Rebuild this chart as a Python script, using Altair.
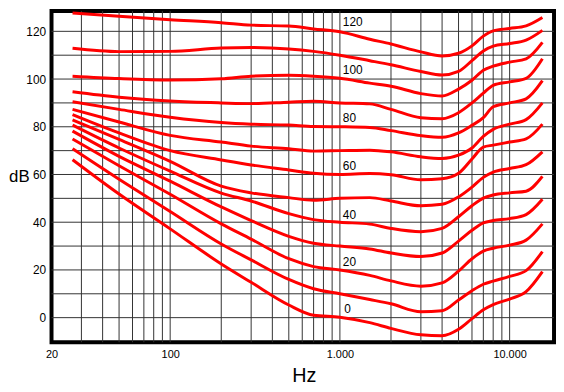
import altair as alt
import pandas as pd

# Frequencies (Hz) at which the curves were read
freq = [26.6, 50, 100, 200, 300, 500, 700, 1000, 1500, 2000, 3000, 4000,
        5000, 6000, 7000, 8000, 10000, 12500, 15600]

# Sound pressure level (dB) of each equal-loudness curve (phon)
phon_0 = [66.2, 51.8, 37.2, 22.5, 14.8, 5.3, 1.0, 0.2, -2.1, -4.5, -7.2, -7.6,
          -4.9, -0.4, 3.3, 5.5, 7.8, 10.9, 19.3]
phon_10 = [70.8, 58.0, 44.5, 30.9, 24.2, 16.0, 12.1, 10.0, 7.6, 5.8, 2.5, 2.9,
           7.4, 11.3, 14.0, 15.3, 17.3, 19.7, 27.7]
phon_20 = [74.9, 63.7, 51.7, 39.3, 32.9, 24.7, 21.4, 20.0, 17.7, 15.4, 13.2, 14.6,
           19.5, 24.7, 27.9, 29.1, 30.4, 32.5, 39.3]
phon_30 = [78.2, 67.6, 57.2, 46.4, 40.7, 34.1, 31.2, 30.0, 28.8, 27.1, 25.6, 27.1,
           32.1, 36.6, 39.7, 40.7, 41.5, 43.2, 49.6]
phon_40 = [80.7, 71.1, 61.4, 52.2, 48.9, 43.6, 41.1, 40.0, 39.2, 37.4, 36.0, 37.4,
           42.3, 46.9, 50.1, 51.4, 52.3, 53.0, 59.2]
phon_50 = [82.9, 74.7, 65.5, 55.1, 52.3, 50.3, 49.2, 50.0, 50.3, 48.9, 46.9, 47.5,
           50.6, 54.7, 58.8, 61.0, 62.5, 64.1, 69.5]
phon_60 = [85.1, 77.4, 70.0, 66.1, 64.0, 61.9, 60.5, 60.0, 60.4, 59.9, 57.8, 58.2,
           60.5, 66.5, 71.5, 72.3, 73.6, 74.9, 81.1]
phon_70 = [87.3, 82.0, 76.4, 73.6, 71.9, 70.8, 69.8, 70.0, 70.2, 69.5, 67.4, 66.7,
           68.1, 71.1, 76.0, 78.9, 81.1, 83.0, 90.0]
phon_80 = [90.5, 87.3, 84.0, 81.8, 81.1, 80.7, 80.1, 80.0, 79.7, 78.4, 76.3, 75.6,
           77.4, 80.6, 83.8, 88.4, 90.0, 91.7, 99.3]
phon_90 = [94.7, 92.4, 90.8, 90.0, 89.7, 90.3, 90.7, 90.0, 89.6, 87.3, 83.8, 83.4,
           85.9, 90.0, 94.1, 97.4, 98.8, 100.3, 108.5]
phon_100 = [101.2, 100.2, 99.6, 100.1, 101.2, 101.6, 101.2, 100.3, 98.3, 97.0, 93.9,
            92.9, 95.8, 99.5, 103.7, 105.4, 107.1, 108.5, 115.4]
phon_110 = [112.9, 111.5, 111.6, 113.0, 113.2, 112.6, 111.6, 110.0, 107.7, 106.0,
            103.2, 101.7, 103.2, 107.7, 111.8, 113.8, 114.9, 116.3, 120.4]
phon_120 = [127.7, 126.3, 124.9, 123.6, 122.6, 122.2, 121.0, 119.8, 116.7, 114.7,
            111.4, 109.7, 110.8, 113.9, 118.0, 120.2, 121.2, 122.3, 125.8]

phons = [0, 10, 20, 30, 40, 50, 60, 70, 80, 90, 100, 110, 120]
curves = [phon_0, phon_10, phon_20, phon_30, phon_40, phon_50, phon_60,
          phon_70, phon_80, phon_90, phon_100, phon_110, phon_120]

# Curve labels
label_text = ["120", "100", "80", "60", "40", "20", "0"]
label_db = [124.1, 103.6, 83.5, 63.7, 43.1, 23.4, 3.7]
label_freq = [1040, 1040, 1040, 1040, 1040, 1040, 1060]

# Grid positions and axis ticks
grid_freq = [30, 40, 50, 60, 70, 80, 90, 100, 200, 300, 400, 500, 600, 700,
             800, 900, 1000, 2000, 3000, 4000, 5000, 6000, 7000, 8000, 9000, 10000]
grid_db = [0, 10, 20, 30, 40, 50, 60, 70, 80, 90, 100, 110, 120]
x_ticks = [20, 100, 1000, 10000]
y_ticks = [0, 20, 40, 60, 80, 100, 120]

rows = []
for p, vals in zip(phons, curves):
    for f, v in zip(freq, vals):
        rows.append({"phon": p, "f": f, "db": v})
df = pd.DataFrame(rows)

xscale = alt.Scale(type="log", domain=[20, 18260], nice=False)
yscale = alt.Scale(domain=[-10.3, 128.5], nice=False, zero=False)

FONT = "Liberation Sans"

xaxis = alt.Axis(
    values=x_ticks,
    labelExpr="replace(format(datum.value, ','), ',', '.')",
    grid=False, ticks=False, domain=False, labelFlush=False,
    labelOverlap=False, labelPadding=6, labelFontSize=11,
    labelFont=FONT, labelColor="black",
    title="Hz", titleFont=FONT, titleFontSize=20,
    titleFontWeight="normal", titleColor="black",
    titleX=255, titleY=34, titleAlign="center",
    titleBaseline="middle",
)
yaxis = alt.Axis(
    values=y_ticks, grid=False, ticks=False, domain=False,
    labelPadding=6, labelFontSize=12, labelFont=FONT,
    labelColor="black", labelFlush=False,
    title="dB", titleFont=FONT, titleFontSize=17,
    titleFontWeight="normal", titleColor="black", titleAngle=0,
    titleX=-33, titleY=167, titleAlign="center",
    titleBaseline="middle",
)

vgrid = alt.Chart(pd.DataFrame({"f": grid_freq})).mark_rule(
    color="#333333", strokeWidth=1
).encode(x=alt.X("f:Q", scale=xscale, axis=xaxis))

hgrid = alt.Chart(pd.DataFrame({"db": grid_db})).mark_rule(
    color="#333333", strokeWidth=1
).encode(y=alt.Y("db:Q", scale=yscale, axis=yaxis))

lines = alt.Chart(df).mark_line(
    color="#ff0000", strokeWidth=3, interpolate="monotone"
).encode(
    x=alt.X("f:Q", scale=xscale, axis=xaxis),
    y=alt.Y("db:Q", scale=yscale, axis=yaxis),
    detail="phon:N",
)

labels = alt.Chart(pd.DataFrame({
    "f": label_freq, "db": label_db, "t": label_text
})).mark_text(
    align="left", baseline="middle", fontSize=12, font=FONT, color="black"
).encode(
    x=alt.X("f:Q", scale=xscale, axis=xaxis),
    y=alt.Y("db:Q", scale=yscale, axis=yaxis),
    text="t:N",
)

chart = alt.layer(vgrid, hgrid, lines, labels).properties(
    width=508,
    height=334.8,
    padding={"left": 44, "top": 1, "right": 2, "bottom": 46},
    autosize=alt.AutoSizeParams(type="none"),
    background="white",
).configure_view(stroke="black", strokeWidth=4)

chart.save("out.html", embed_options={"renderer": "svg", "actions": False})
